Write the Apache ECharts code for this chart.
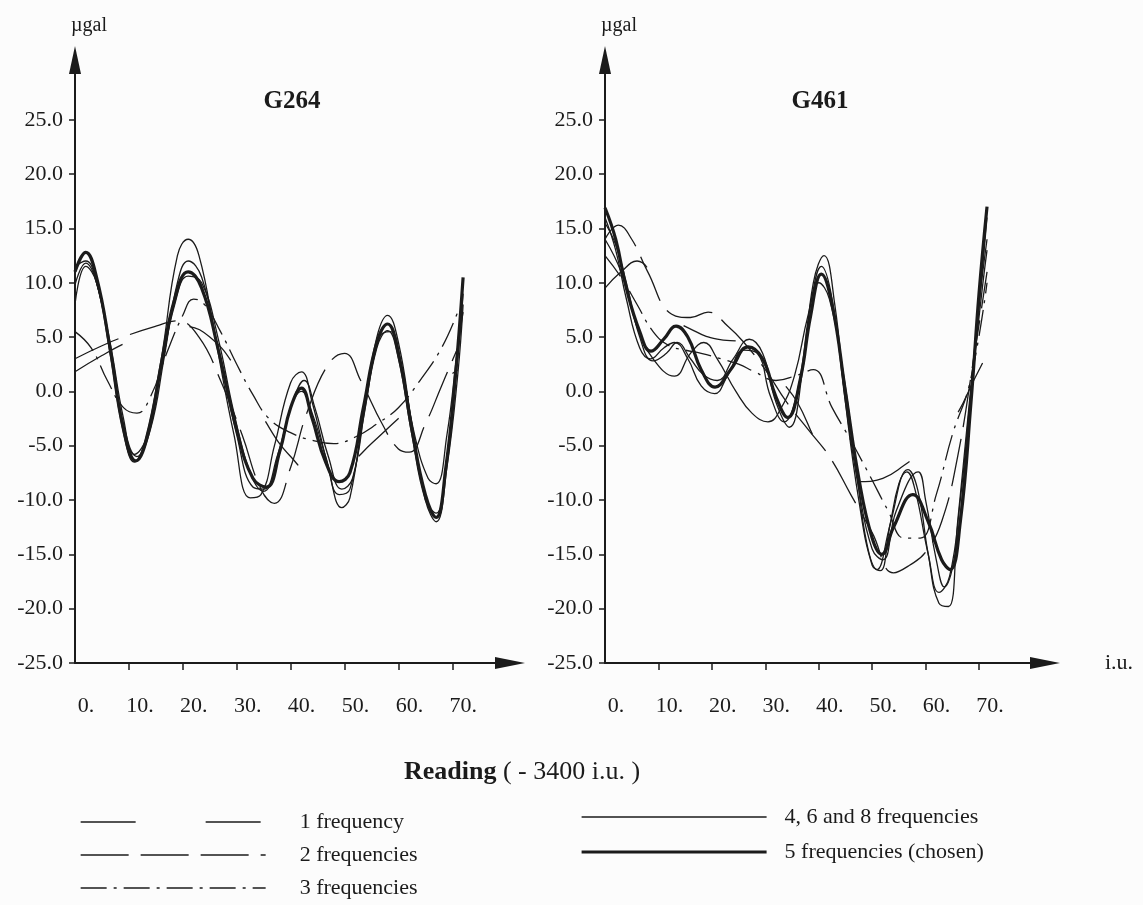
<!DOCTYPE html>
<html>
<head>
<meta charset="UTF-8">
<title>G264 / G461</title>
<script src="https://cdn.jsdelivr.net/npm/echarts@6/dist/echarts.min.js"></script>
<style>
  html, body { margin: 0; padding: 0; background: #fcfcfc; }
  #chart { width: 1143px; height: 905px; }
</style>
</head>
<body>
<div id="chart"></div>
<script type="text/javascript">
// tick labels
var xLabels = [0, 10, 20, 30, 40, 50, 60, 70];
var xTicks = [10, 20, 30, 40, 50, 60, 70];
var yLabels = [-25, -20, -15, -10, -5, 0, 5, 10, 15, 20, 25];

var legendLeft = ['1 frequency', '2 frequencies', '3 frequencies'];
var legendRight = ['4, 6 and 8 frequencies', '5 frequencies (chosen)'];

// G264 -- values, [reading, µgal]
var g264Five = [[0,11],[2,12.8],[4,10.5],[6.5,4],[9,-3.5],[11.3,-6.4],[13.5,-4],[16,2.5],[18.5,8.5],[21,11],[23.5,9.5],[26.5,4],[30,-3.5],[33,-8],[35.5,-8.8],[38,-5.5],[40,-1.5],[42,0.3],[44,-2.5],[46.5,-6.5],[49,-8.3],[51,-7.5],[53.5,-1.5],[56,4.5],[58,6.2],[60,3.5],[62.5,-3.5],[65,-9.5],[67,-11.6],[68.8,-7],[70.5,1],[72,10.5]];
var g264ThinA = [[0,8],[2,11.5],[4,10],[6.5,3.5],[9,-3.8],[11,-6.5],[13,-4.5],[16,3],[19,12.5],[21,14],[23,12.5],[26,5],[29.5,-4],[32.5,-9.8],[34.5,-9.5],[37,-5],[40,0.8],[42,1.8],[44,-1],[47,-7],[49.5,-10.7],[51,-9.8],[53.5,-2],[56,5],[58,7],[60,4.5],[62.5,-3],[65,-10],[67,-12],[69,-7],[71,1.5],[72,8]];
var g264ThinB = [[0,9.8],[2,11.8],[4,10],[6.5,4],[9,-3],[11.5,-6],[14,-3.5],[16.5,3],[19,10],[21,12],[23.5,10.5],[26.5,4],[30,-4],[33,-8.8],[35,-9],[37.5,-6],[40.5,-0.8],[42.5,1],[44.5,-1.5],[47,-6],[49.5,-9],[51.5,-8],[54,-1],[56.5,5],[58.5,5.5],[60.5,2.5],[63,-4],[65.5,-8],[67,-8.5],[69,-4],[71,4],[72,7.3]];
var g264ThinC = [[0,11.5],[2,12],[4,10],[6.5,4.5],[9,-2.5],[11,-5.8],[13.5,-4],[16,2],[18.5,8],[21,10.6],[23.5,10],[26.5,5],[29.5,-2],[32.5,-7.5],[35,-9.2],[37.5,-6.5],[40,-1.5],[42,0],[44,-2],[46.5,-6],[49,-9.5],[51,-9],[53.5,-2.5],[56,4],[58,5.6],[60,3],[62.5,-4],[65,-10],[67,-11.2],[69,-6],[71,3],[72,9]];
var g264One = [[0,1.8],[5,3.3],[10,4.6],[15,5.6],[20,6],[25,5],[30,2],[35,-2.5],[40,-6],[45,-7.8],[50,-7],[55,-4.8],[60,-2.5],[65,-0.3],[71,2]];
var g264Two = [[0,3],[5,4.2],[10,5.2],[15,6],[19,6.5],[23,5],[27,1],[31,-4],[34.5,-9],[37,-10.3],[40,-7],[43,-2],[47,2.5],[50,3.5],[53,1],[57,-3],[60,-5.3],[62,-5.6],[65,-3],[68,0.5],[71,4]];
var g264Three = [[0,5.5],[3,4],[6,1],[9,-1.5],[11.5,-2],[14,-0.5],[17,3.5],[20,7],[22,8.5],[24,8],[27,5.5],[30,2.5],[33,-0.3],[36,-2.5],[40,-3.8],[44,-4.5],[48,-4.8],[52,-4.2],[56,-3],[60,-1.5],[64,1],[68,4],[71,7.3]];

// G461
var g461Five = [[0,16.9],[2,14],[4,9.5],[6.5,5.5],[8.6,3.7],[11,4.8],[13.3,6],[15.5,5],[18,2],[20.6,0.4],[23.5,2],[26.8,4.1],[29.5,3],[32,-0.5],[34.2,-2.4],[36.5,1],[38.5,7],[40.5,10.8],[42.5,8],[45,0],[47.5,-8],[50,-13.5],[51.8,-15],[54,-12.5],[57.6,-9.5],[60.5,-12],[63,-15.5],[64.6,-16.4],[66.5,-12],[68.5,-1],[70,9],[71.5,17]];
var g461ThinA = [[0,15.5],[2,13.5],[4,10],[6.5,5],[9,2.8],[11.5,3.5],[13.5,4.5],[16,3],[18.5,1.5],[21,1],[24,3],[27,4.8],[29.5,3.5],[32,-1],[34.5,-3.3],[37,2],[39,10],[41,12.5],[43,8],[45,-1],[47.5,-10],[50,-16],[51.5,-16.5],[53.5,-12],[56.7,-7.2],[58.5,-9],[60.5,-15],[62.5,-19.5],[64.3,-19.8],[66,-12],[68,-2],[70,8],[71.5,14]];
var g461ThinB = [[0,14],[3,11],[6,6],[9,3],[13,1.4],[16,3.5],[18.5,4.5],[21,3],[24.5,0],[27.5,-2],[30.5,-2.8],[33,-1.5],[35.5,1.5],[38,7],[40,10],[42,8.5],[44.5,2],[47,-7],[49,-14],[50.9,-16.4],[53,-13],[55,-8.5],[56.5,-7.4],[58,-9],[60.5,-15],[62.5,-18.5],[64.5,-17],[66.5,-10],[68.5,0],[70.5,9],[71.5,13]];
var g461ThinC = [[0,16],[2,13],[4,8.5],[6.5,4],[8.5,3],[11,4],[13,4.5],[15.5,3],[18,0.5],[20.5,-0.2],[23,1.5],[26,3.8],[28.5,3.5],[31,-0.5],[33.5,-2.8],[36,0],[38.5,8],[40.5,11.5],[42.5,8.5],[45,-1],[47.5,-9],[50,-14.5],[52,-15.5],[54.5,-11],[58.6,-7.4],[60,-10],[62,-15.5],[63.5,-18],[65.5,-15],[67.5,-6],[69.5,5],[71.5,16]];
var g461One = [[0,9.5],[3,11],[6,12],[9,10.5],[12.5,7],[17,5.5],[21,4.8],[26,4.5],[30,3],[33,1],[36,-1],[40,-5],[44,-7.5],[48,-8.3],[52,-8],[56,-6.8],[60,-5.3],[63,-4],[66,-2],[69,1],[71.5,3.4]];
var g461Two = [[0,14],[2.5,15.3],[5,14],[8,11],[12.5,7.1],[16,6.8],[19.3,7.3],[23,6],[26,4.5],[30,2],[34,-1],[38,-3.5],[42,-6],[46,-9.5],[50,-13],[54,-16.7],[57,-16],[60,-14.8],[63,-12],[66,-6],[69,3],[71.5,11]];
var g461Three = [[0,12.5],[3,10.5],[6,8],[9,5.5],[12,4.2],[15,3.8],[18,3.5],[21.7,3],[25,2.5],[28,1.8],[32,1],[36,1.5],[39,2],[42.5,-1.5],[46,-4.5],[49.6,-7.8],[53,-11],[56,-13.5],[59,-13.5],[62,-9.5],[65,-4],[68.3,0.8],[71.5,10]];

var ink = '#1b1b1b';
var serif = '"Liberation Serif", "Times New Roman", serif';

var dashOne = [55, 70];
var dashTwo = [48, 12];
var dashThree = [26, 7, 3, 7];

function line(name, data, idx, width, dash) {
    return {
        name: name,
        type: 'line',
        xAxisIndex: idx,
        yAxisIndex: idx,
        data: data,
        smooth: 0.45,
        symbol: 'none',
        silent: true,
        itemStyle: { color: ink },
        lineStyle: { color: ink, width: width, type: dash || 'solid' }
    };
}

function xAx(idx, max, name) {
    return {
        type: 'value', gridIndex: idx, min: 0, max: max,
        name: name || '', nameLocation: 'end', nameGap: 60,
        nameTextStyle: { fontFamily: serif, fontSize: 22, color: ink, verticalAlign: 'middle' },
        axisLine: { onZero: false, symbol: ['none', 'triangle'], symbolSize: [12, 30], lineStyle: { color: ink, width: 2 } },
        axisTick: { customValues: xTicks, length: 7, lineStyle: { color: ink, width: 1.5 } },
        axisLabel: {
            customValues: xLabels, margin: 32, padding: [0, 0, 0, 22],
            fontFamily: serif, fontSize: 22, color: ink,
            formatter: function (v) { return v + '.'; }
        },
        splitLine: { show: false }
    };
}

function yAx(idx) {
    return {
        type: 'value', gridIndex: idx, min: -25, max: 30.5,
        name: 'µgal', nameLocation: 'end', nameGap: 24,
        nameTextStyle: { fontFamily: serif, fontSize: 20, color: ink, padding: [0, 0, 0, 28] },
        axisLine: { symbol: ['none', 'triangle'], symbolSize: [12, 28], lineStyle: { color: ink, width: 2 } },
        axisTick: { customValues: yLabels, length: 6, lineStyle: { color: ink, width: 1.5 } },
        axisLabel: {
            customValues: yLabels, margin: 12,
            fontFamily: serif, fontSize: 22, color: ink,
            formatter: function (v) { return v.toFixed(1); }
        },
        splitLine: { show: false }
    };
}

function legendItem(name, width, dash) {
    return {
        name: name,
        itemStyle: { opacity: 0 },
        lineStyle: { width: width, type: dash || 'solid', color: ink }
    };
}

var myChart = echarts.init(document.getElementById('chart'));
var option = {
    animation: false,
    backgroundColor: '#fcfcfc',
    title: [
        { text: 'G264', left: 287, top: 84, textAlign: 'center', textStyle: { fontFamily: serif, fontSize: 25, fontWeight: 'bold', color: ink } },
        { text: 'G461', left: 815, top: 84, textAlign: 'center', textStyle: { fontFamily: serif, fontSize: 25, fontWeight: 'bold', color: ink } },
        {
            text: '{b|Reading} ( - 3400 i.u. )', left: 517, top: 754, textAlign: 'center',
            textStyle: {
                fontFamily: serif, fontSize: 26, fontWeight: 'normal', color: ink,
                rich: { b: { fontFamily: serif, fontSize: 26, fontWeight: 'bold', color: ink } }
            }
        }
    ],
    grid: [
        { left: 75, top: 60, width: 435, height: 603, containLabel: false },
        { left: 605, top: 60, width: 440, height: 603, containLabel: false }
    ],
    xAxis: [xAx(0, 80.7), xAx(1, 82.35, 'i.u.')],
    yAxis: [yAx(0), yAx(1)],
    legend: [
        {
            left: 80, top: 811, orient: 'vertical', padding: 0,
            itemWidth: 185, itemHeight: 14, itemGap: 11,
            selectedMode: false,
            textStyle: { fontFamily: serif, fontSize: 22, color: ink, padding: [0, 0, 0, 29] },
            data: [legendItem(legendLeft[0], 1.3, dashOne), legendItem(legendLeft[1], 1.3, dashTwo), legendItem(legendLeft[2], 1.3, dashThree)]
        },
        {
            left: 580, top: 806, orient: 'vertical', padding: 0,
            itemWidth: 185, itemHeight: 14, itemGap: 13,
            selectedMode: false,
            textStyle: { fontFamily: serif, fontSize: 22, color: ink, padding: [0, 0, 0, 13] },
            data: [legendItem(legendRight[0], 1.3), legendItem(legendRight[1], 3.2)]
        }
    ],
    series: [
        line(legendLeft[0], g264One, 0, 1.3, dashOne),
        line(legendLeft[1], g264Two, 0, 1.3, dashTwo),
        line(legendLeft[2], g264Three, 0, 1.3, dashThree),
        line(legendRight[0], g264ThinA, 0, 1.3),
        line(legendRight[0], g264ThinB, 0, 1.3),
        line(legendRight[0], g264ThinC, 0, 1.3),
        line(legendRight[1], g264Five, 0, 3.2),
        line(legendLeft[0], g461One, 1, 1.3, dashOne),
        line(legendLeft[1], g461Two, 1, 1.3, dashTwo),
        line(legendLeft[2], g461Three, 1, 1.3, dashThree),
        line(legendRight[0], g461ThinA, 1, 1.3),
        line(legendRight[0], g461ThinB, 1, 1.3),
        line(legendRight[0], g461ThinC, 1, 1.3),
        line(legendRight[1], g461Five, 1, 3.2)
    ]
};
myChart.setOption(option);
</script>
</body>
</html>
